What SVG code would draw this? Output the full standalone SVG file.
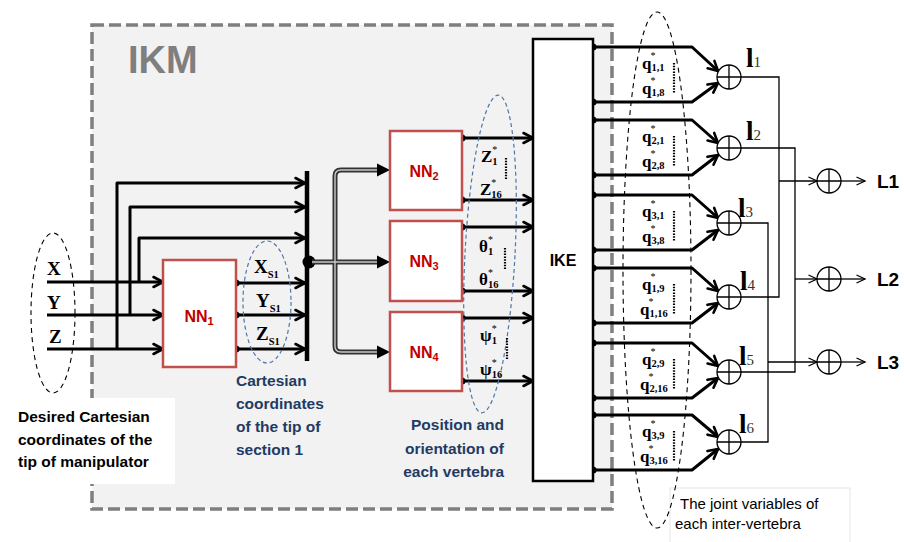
<svg xmlns="http://www.w3.org/2000/svg" width="904" height="542" viewBox="0 0 904 542">
<defs>
<style>
.w{stroke:#000;stroke-width:3;fill:none;stroke-linejoin:round}
.t{stroke:#000;stroke-width:1.3;fill:none}
.nn{fill:#fff;stroke:#c0504d;stroke-width:2.5}
.nnl{font-family:"Liberation Sans",Arial,sans-serif;font-weight:bold;font-size:16px;fill:#c00000;text-anchor:middle}
.nns{font-size:11px}
.sym{font-family:"Liberation Serif","Times New Roman",serif;font-weight:bold;font-size:17px;fill:#000}
.big{font-size:19px}
.sup{font-size:10px;font-weight:normal}
.sub{font-size:10.5px}
.bl{font-family:"Liberation Sans",Arial,sans-serif;font-weight:bold;font-size:15.5px;fill:#1f3b63}
.blk{font-family:"Liberation Sans",Arial,sans-serif;font-weight:bold;font-size:15.5px;fill:#000}
.lab{font-family:"Liberation Serif","Times New Roman",serif;font-weight:bold;font-size:27px}
.labs{font-weight:normal;font-size:15px;fill:#333}
.L{font-family:"Liberation Sans",Arial,sans-serif;font-weight:bold;font-size:19px}
.dots{stroke:#000;stroke-width:2.2;stroke-dasharray:1.5 1.3;fill:none}
.dbl-o{stroke:#333;stroke-width:5;fill:none}
.dbl-i{stroke:#c8c8c8;stroke-width:1.4;fill:none}
.ellb{fill:none;stroke:#000;stroke-width:1.1;stroke-dasharray:5 4}
.ellu{fill:none;stroke:#4f76a8;stroke-width:1.2;stroke-dasharray:4 3}
</style>
<marker id="chev" markerUnits="userSpaceOnUse" markerWidth="14" markerHeight="14" refX="11" refY="6" orient="auto" overflow="visible">
<path d="M1.5,1 L11,6 L1.5,11" fill="none" stroke="#000" stroke-width="2.6" stroke-linecap="round" stroke-linejoin="round"/>
</marker>
<marker id="chevT" markerUnits="userSpaceOnUse" markerWidth="12" markerHeight="12" refX="9" refY="4.5" orient="auto" overflow="visible">
<path d="M0.5,0.5 L9,4.5 L0.5,8.5" fill="none" stroke="#000" stroke-width="1.3"/>
</marker>
<g id="plus">
<circle cx="0" cy="0" r="12" fill="#fff" stroke="#000" stroke-width="1.3"/>
<path d="M-12,0 H12 M0,-12 V12" stroke="#000" stroke-width="1.3"/>
</g>
</defs>

<g id="ikm">
<rect x="92" y="25" width="520" height="484" fill="#f2f2f2" stroke="#7f7f7f" stroke-width="3.5" stroke-dasharray="12 5"/>
<text x="128" y="73" font-family="Liberation Sans, Arial, sans-serif" font-weight="bold" font-size="38" fill="#7f7f7f">IKM</text>
</g>

<g id="desired-label">
<rect x="8" y="398" width="167" height="86" fill="#fff"/>
<text class="blk" x="18" y="422">Desired Cartesian</text>
<text class="blk" x="18" y="445">coordinates of the</text>
<text class="blk" x="18" y="467">tip of manipulator</text>
</g>
<g id="joint-label">
<rect x="670" y="488" width="180" height="56" fill="#fff" stroke="#e6e6e6" stroke-width="1"/>
<text x="680" y="509" font-family="Liberation Sans, Arial, sans-serif" font-size="15" fill="#000">The joint variables of</text>
<text x="675" y="529" font-family="Liberation Sans, Arial, sans-serif" font-size="15" fill="#000">each inter-vertebra</text>
</g>
<g id="cart-label">
<text class="bl" x="236" y="386">Cartesian</text>
<text class="bl" x="236" y="409">coordinates</text>
<text class="bl" x="236" y="432">of the tip of</text>
<text class="bl" x="236" y="455">section 1</text>
</g>
<g id="pos-label">
<text class="bl" x="504" y="430" text-anchor="end">Position and</text>
<text class="bl" x="504" y="454" text-anchor="end">orientation of</text>
<text class="bl" x="504" y="477" text-anchor="end">each vertebra</text>
</g>

<g id="connectors">
<path class="w" d="M47,282 H163" marker-end="url(#chev)"/>
<path class="w" d="M47,315 H163" marker-end="url(#chev)"/>
<path class="w" d="M47,349 H163" marker-end="url(#chev)"/>
<path class="w" d="M139,282 V238 H305" marker-end="url(#chev)"/>
<path class="w" d="M130,315 V207 H305" marker-end="url(#chev)"/>
<path class="w" d="M117,349 V183 H305" marker-end="url(#chev)"/>
<path class="w" d="M236,283 H305" marker-end="url(#chev)"/>
<path class="w" d="M236,315 H305" marker-end="url(#chev)"/>
<path class="w" d="M236,349 H305" marker-end="url(#chev)"/>
<circle cx="236" cy="283" r="3.6"/>
<circle cx="236" cy="315" r="3.6"/>
<circle cx="236" cy="349" r="3.6"/>
<path d="M307,171 V361" stroke="#000" stroke-width="4.5"/>
<circle cx="309" cy="262" r="6.5"/>
<path class="dbl-o" d="M378,170 H341 Q335,170 335,176 V346 Q335,352 341,352 H378 M312,262 H378"/>
<path class="dbl-i" d="M378,170 H341 Q335,170 335,176 V346 Q335,352 341,352 H378 M312,262 H378"/>
<polygon points="377,163.5 390,170 377,176.5"/>
<polygon points="377,255.5 390,262 377,268.5"/>
<polygon points="377,345.5 390,352 377,358.5"/>
<path class="w" d="M462,138 H533" marker-end="url(#chev)"/>
<path class="w" d="M462,200 H533" marker-end="url(#chev)"/>
<path class="w" d="M462,227 H533" marker-end="url(#chev)"/>
<path class="w" d="M462,291 H533" marker-end="url(#chev)"/>
<path class="w" d="M462,318 H533" marker-end="url(#chev)"/>
<path class="w" d="M462,381 H533" marker-end="url(#chev)"/>
<circle cx="462" cy="138" r="3.6"/>
<circle cx="462" cy="200" r="3.6"/>
<circle cx="462" cy="227" r="3.6"/>
<circle cx="462" cy="291" r="3.6"/>
<circle cx="462" cy="318" r="3.6"/>
<circle cx="462" cy="381" r="3.6"/>
<path class="w" d="M593,47 H692 L718,71" marker-end="url(#chev)"/>
<path class="w" d="M593,102 H692 L718,83" marker-end="url(#chev)"/>
<path class="w" d="M593,120 H692 L718,143" marker-end="url(#chev)"/>
<path class="w" d="M593,175 H692 L718,155" marker-end="url(#chev)"/>
<path class="w" d="M593,195 H692 L718,218" marker-end="url(#chev)"/>
<path class="w" d="M593,250 H692 L718,230" marker-end="url(#chev)"/>
<path class="w" d="M593,268 H692 L718,291" marker-end="url(#chev)"/>
<path class="w" d="M593,323 H692 L718,303" marker-end="url(#chev)"/>
<path class="w" d="M593,343 H692 L718,366" marker-end="url(#chev)"/>
<path class="w" d="M593,398 H692 L718,378" marker-end="url(#chev)"/>
<path class="w" d="M593,415 H692 L718,437" marker-end="url(#chev)"/>
<path class="w" d="M593,470 H692 L718,449" marker-end="url(#chev)"/>
<g>
<circle cx="593" cy="47" r="3.6"/><circle cx="593" cy="102" r="3.6"/>
<circle cx="593" cy="120" r="3.6"/><circle cx="593" cy="175" r="3.6"/>
<circle cx="593" cy="195" r="3.6"/><circle cx="593" cy="250" r="3.6"/>
<circle cx="593" cy="268" r="3.6"/><circle cx="593" cy="323" r="3.6"/>
<circle cx="593" cy="343" r="3.6"/><circle cx="593" cy="398" r="3.6"/>
<circle cx="593" cy="415" r="3.6"/><circle cx="593" cy="470" r="3.6"/>
</g>
<path class="t" d="M741,77 H779 V297 H741"/>
<path class="t" d="M741,148 H795 V372 H741"/>
<path class="t" d="M741,223 H768 V442 H741"/>
<path class="t" d="M779,181 H817" marker-end="url(#chevT)"/>
<path class="t" d="M795,279 H817" marker-end="url(#chevT)"/>
<path class="t" d="M768,362 H817" stroke-width="2" marker-end="url(#chevT)"/>
<path class="t" d="M841,181 H865" marker-end="url(#chevT)"/>
<path class="t" d="M841,279 H865" marker-end="url(#chevT)"/>
<path class="t" d="M841,362 H865" marker-end="url(#chevT)"/>
</g>

<ellipse class="ellb" cx="53" cy="313" rx="22" ry="80"/>
<ellipse class="ellu" cx="267" cy="302" rx="24" ry="61"/>
<ellipse class="ellu" cx="490" cy="254" rx="25" ry="159" transform="rotate(3 490 254)"/>
<ellipse class="ellb" cx="657" cy="270" rx="34" ry="258"/>

<g id="inputs">
<text class="sym big" x="47" y="275">X</text>
<text class="sym big" x="47" y="309">Y</text>
<text class="sym big" x="49" y="343">Z</text>
</g>

<g id="nn1">
<rect class="nn" x="163" y="260" width="73" height="107"/>
<text class="nnl" x="199" y="322">NN<tspan class="nns" dy="3">1</tspan></text>
</g>
<g id="nn1-out-labels">
<text class="sym big" x="254" y="273">X<tspan class="sub" dy="5">S1</tspan></text>
<text class="sym big" x="256" y="307">Y<tspan class="sub" dy="5">S1</tspan></text>
<text class="sym big" x="256" y="340">Z<tspan class="sub" dy="5">S1</tspan></text>
</g>

<g id="nn2">
<rect class="nn" x="390" y="131" width="72" height="79"/>
<text class="nnl" x="424" y="177">NN<tspan class="nns" dy="3">2</tspan></text>
</g>
<g id="nn3">
<rect class="nn" x="390" y="221" width="72" height="80"/>
<text class="nnl" x="424" y="267">NN<tspan class="nns" dy="3">3</tspan></text>
</g>
<g id="nn4">
<rect class="nn" x="390" y="312" width="72" height="79"/>
<text class="nnl" x="424" y="358">NN<tspan class="nns" dy="3">4</tspan></text>
</g>
<g id="nn-out-labels">
<text class="sym" x="481" y="162">Z<tspan class="sup" dy="-9">*</tspan><tspan class="sub" dx="-5" dy="12">1</tspan></text>
<text class="sym" x="480" y="195">Z<tspan class="sup" dy="-9">*</tspan><tspan class="sub" dx="-5" dy="12">16</tspan></text>
<text class="sym" x="479" y="252">θ<tspan class="sup" dy="-9">*</tspan><tspan class="sub" dx="-5" dy="12">1</tspan></text>
<text class="sym" x="479" y="285">θ<tspan class="sup" dy="-9">*</tspan><tspan class="sub" dx="-5" dy="12">16</tspan></text>
<text class="sym" x="480" y="341">ψ<tspan class="sup" dy="-9">*</tspan><tspan class="sub" dx="-5" dy="12">1</tspan></text>
<text class="sym" x="480" y="375">ψ<tspan class="sup" dy="-9">*</tspan><tspan class="sub" dx="-5" dy="12">16</tspan></text>
<path class="dots" d="M506,158 V180 M505,248 V270 M507,338 V360"/>
</g>

<g id="ike">
<rect x="533" y="39" width="60" height="442" fill="#fff" stroke="#000" stroke-width="2.5"/>
<text x="563" y="266" font-family="Liberation Sans, Arial, sans-serif" font-weight="bold" font-size="16" text-anchor="middle">IKE</text>
</g>

<g id="q-labels">
<text class="sym" x="642" y="69">q<tspan class="sup" dx="-1" dy="-10">*</tspan><tspan class="sub" dx="-4" dy="12">1,1</tspan></text>
<text class="sym" x="642" y="94">q<tspan class="sup" dx="-1" dy="-10">*</tspan><tspan class="sub" dx="-4" dy="12">1,8</tspan></text>
<text class="sym" x="642" y="142">q<tspan class="sup" dx="-1" dy="-10">*</tspan><tspan class="sub" dx="-4" dy="12">2,1</tspan></text>
<text class="sym" x="642" y="167">q<tspan class="sup" dx="-1" dy="-10">*</tspan><tspan class="sub" dx="-4" dy="12">2,8</tspan></text>
<text class="sym" x="642" y="217">q<tspan class="sup" dx="-1" dy="-10">*</tspan><tspan class="sub" dx="-4" dy="12">3,1</tspan></text>
<text class="sym" x="642" y="242">q<tspan class="sup" dx="-1" dy="-10">*</tspan><tspan class="sub" dx="-4" dy="12">3,8</tspan></text>
<text class="sym" x="642" y="290">q<tspan class="sup" dx="-1" dy="-10">*</tspan><tspan class="sub" dx="-4" dy="12">1,9</tspan></text>
<text class="sym" x="640" y="315">q<tspan class="sup" dx="-1" dy="-10">*</tspan><tspan class="sub" dx="-4" dy="12">1,16</tspan></text>
<text class="sym" x="642" y="365">q<tspan class="sup" dx="-1" dy="-10">*</tspan><tspan class="sub" dx="-4" dy="12">2,9</tspan></text>
<text class="sym" x="640" y="390">q<tspan class="sup" dx="-1" dy="-10">*</tspan><tspan class="sub" dx="-4" dy="12">2,16</tspan></text>
<text class="sym" x="642" y="437">q<tspan class="sup" dx="-1" dy="-10">*</tspan><tspan class="sub" dx="-4" dy="12">3,9</tspan></text>
<text class="sym" x="640" y="462">q<tspan class="sup" dx="-1" dy="-10">*</tspan><tspan class="sub" dx="-4" dy="12">3,16</tspan></text>
<path class="dots" d="M674,63 V93 M674,136 V166 M674,211 V241 M674,284 V314 M674,359 V389 M674,431 V461"/>
</g>

<g id="sum-l1"><use href="#plus" x="729" y="77"/><text class="lab" x="746" y="67">l<tspan class="labs">1</tspan></text></g>
<g id="sum-l2"><use href="#plus" x="729" y="148"/><text class="lab" x="746" y="140">l<tspan class="labs">2</tspan></text></g>
<g id="sum-l3"><use href="#plus" x="729" y="223"/><text class="lab" x="738" y="217">l<tspan class="labs">3</tspan></text></g>
<g id="sum-l4"><use href="#plus" x="729" y="297"/><text class="lab" x="740" y="290">l<tspan class="labs">4</tspan></text></g>
<g id="sum-l5"><use href="#plus" x="729" y="372"/><text class="lab" x="739" y="365">l<tspan class="labs">5</tspan></text></g>
<g id="sum-l6"><use href="#plus" x="729" y="442"/><text class="lab" x="739" y="433">l<tspan class="labs">6</tspan></text></g>

<g id="sum-L1"><use href="#plus" x="829" y="181"/><text class="L" x="877" y="188">L1</text></g>
<g id="sum-L2"><use href="#plus" x="829" y="279"/><text class="L" x="877" y="286">L2</text></g>
<g id="sum-L3"><use href="#plus" x="829" y="362"/><text class="L" x="877" y="369">L3</text></g>
</svg>
